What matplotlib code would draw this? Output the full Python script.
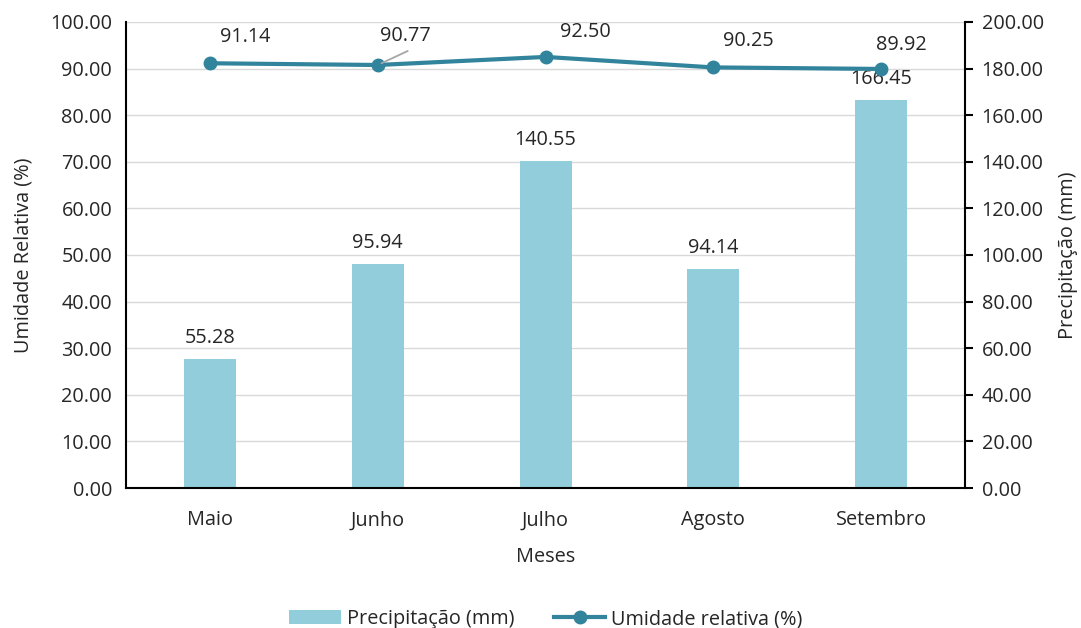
import matplotlib.pyplot as plt
from matplotlib.lines import Line2D
from matplotlib.patches import Patch

plt.rcParams['font.family'] = ['Open Sans', 'DejaVu Sans']

meses = ['Maio', 'Junho', 'Julho', 'Agosto', 'Setembro']
precipitacao = [55.28, 95.94, 140.55, 94.14, 166.45]
umidade = [91.14, 90.77, 92.50, 90.25, 89.92]

# label placement for the humidity values (pixels from each point)
umidade_label_offsets = [(35, 26), (28, 29), (40, 25), (35, 26), (20, 24)]

bar_color = '#92CDDC'
line_color = '#31849B'
text_color = '#262626'
fs = 14.3

fig = plt.figure(figsize=(10.81, 6.28), dpi=100)
ax = fig.add_axes([0.1166, 0.2229, 0.7761, 0.7421])
ax2 = ax.twinx()

x = list(range(len(meses)))

# precipitation bars on the right-hand axis
ax2.bar(x, precipitacao, width=0.31, color=bar_color, zorder=2)
ax2.set_ylim(0, 200)
ax2.set_yticks([i * 20 for i in range(11)])
ax2.set_yticklabels([f'{i * 20:.2f}' for i in range(11)])
for xi, v in zip(x, precipitacao):
    ax2.annotate(f'{v:.2f}', (xi, v), xytext=(0, 21), textcoords='offset pixels',
                 ha='center', va='center', fontsize=fs, color=text_color)

# relative humidity line on the left-hand axis, drawn above the bars
ax.set_zorder(ax2.get_zorder() + 1)
ax.patch.set_visible(False)
ax.plot(x, umidade, color=line_color, lw=3, marker='o', ms=9, zorder=3,
        solid_capstyle='round')
ax.set_ylim(0, 100)
ax.set_xlim(-0.5, 4.5)
ax.set_yticks([i * 10 for i in range(11)])
ax.set_yticklabels([f'{i * 10:.2f}' for i in range(11)])
for xi, v, (dx, dy) in zip(x, umidade, umidade_label_offsets):
    ax.annotate(f'{v:.2f}', (xi, v), xytext=(dx, dy), textcoords='offset pixels',
                ha='center', va='center', fontsize=fs, color=text_color)
# leader line for the Junho value
ax.annotate('', (1, umidade[1]), xytext=(30, 14), textcoords='offset pixels',
            arrowprops=dict(arrowstyle='-', color='#A6A6A6', lw=1.3,
                            shrinkA=0, shrinkB=3))

# horizontal gridlines
for g in range(1, 11):
    ax2.axhline(g * 20, color='#D9D9D9', lw=1, zorder=0)

ax.set_xticks(x)
ax.set_xticklabels(meses)
ax.tick_params(axis='x', length=0, labelsize=fs, labelcolor=text_color, pad=16)
ax.tick_params(axis='y', length=0, labelsize=fs, labelcolor=text_color, pad=10)
ax2.tick_params(axis='y', length=6, width=1.5, direction='out', labelsize=fs,
                labelcolor=text_color, pad=6)

for a in (ax, ax2):
    a.spines['top'].set_visible(False)
ax.spines['left'].set_linewidth(1.5)
ax.spines['bottom'].set_linewidth(1.5)
ax.spines['right'].set_visible(False)
ax2.spines['left'].set_visible(False)
ax2.spines['bottom'].set_visible(False)
ax2.spines['right'].set_linewidth(1.5)

ax.set_ylabel('Umidade Relativa (%)', fontsize=fs, color=text_color, labelpad=12)
ax2.set_ylabel('Precipitação (mm)', fontsize=fs, color=text_color, labelpad=10)
ax.set_xlabel('Meses', fontsize=fs, color=text_color, labelpad=12)

handles = [Patch(facecolor=bar_color, edgecolor='none'),
           Line2D([0], [0], color=line_color, lw=3, marker='o', ms=9)]
fig.legend(handles, ['Precipitação (mm)', 'Umidade relativa (%)'], loc='center',
           bbox_to_anchor=(0.505, 0.014), ncol=2, frameon=False, fontsize=fs,
           handlelength=2.6, columnspacing=2.0, handletextpad=0.3,
           labelcolor=text_color)

fig.savefig('out.png', dpi=100)
